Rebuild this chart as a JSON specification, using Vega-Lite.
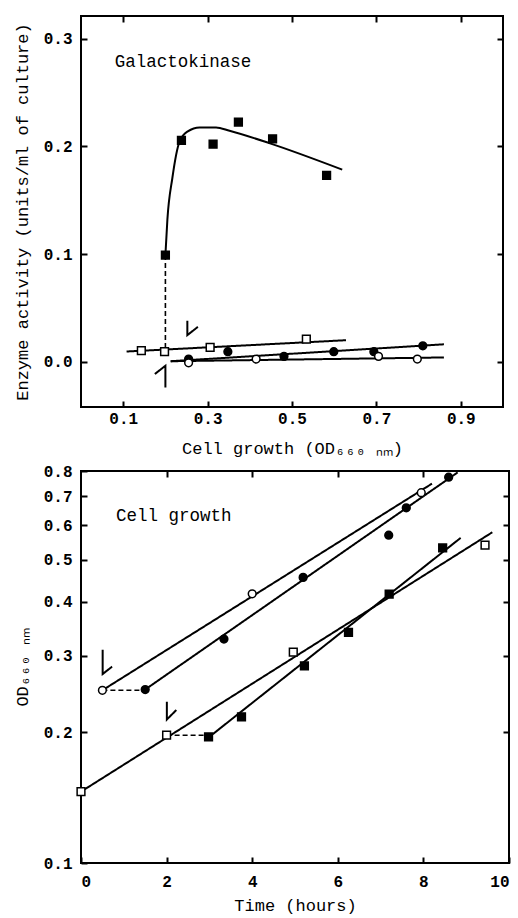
{
  "$schema": "https://vega.github.io/schema/vega-lite/v6.json",
  "padding": {"top": 14, "left": 12, "right": 0, "bottom": 0},
  "background": "white",
  "bounds": "flush",
  "spacing": 64,
  "config": {
    "view": {"stroke": "black", "strokeWidth": 2},
    "font": "Liberation Mono",
    "axis": {
      "grid": false, "domain": false, "tickSize": -6, "tickWidth": 2, "tickColor": "black",
      "labelFont": "Liberation Mono", "labelFontWeight": "bold", "labelFontSize": 16, "labelColor": "black",
      "titleFont": "Liberation Mono", "titleFontWeight": "normal", "titleFontSize": 17, "titleColor": "black"
    }
  },
  "datasets": {
    "gk_points": [
      {"s": "■", "x": 0.200, "y": 0.099}, {"s": "■", "x": 0.238, "y": 0.2056}, {"s": "■", "x": 0.313, "y": 0.202},
      {"s": "■", "x": 0.373, "y": 0.2225}, {"s": "■", "x": 0.454, "y": 0.207}, {"s": "■", "x": 0.582, "y": 0.173},
      {"s": "□", "x": 0.143, "y": 0.0104}, {"s": "□", "x": 0.198, "y": 0.0093}, {"s": "□", "x": 0.306, "y": 0.0133}, {"s": "□", "x": 0.534, "y": 0.021},
      {"s": "●", "x": 0.255, "y": 0.0025}, {"s": "●", "x": 0.348, "y": 0.0093}, {"s": "●", "x": 0.481, "y": 0.005},
      {"s": "●", "x": 0.599, "y": 0.0093}, {"s": "●", "x": 0.694, "y": 0.0093}, {"s": "●", "x": 0.81, "y": 0.0148},
      {"s": "○", "x": 0.255, "y": -0.001}, {"s": "○", "x": 0.415, "y": 0.0025}, {"s": "○", "x": 0.705, "y": 0.005}, {"s": "○", "x": 0.797, "y": 0.0025}
    ],
    "gk_lines": [
      {"seg": "□fit", "i": 0, "x": 0.108, "y": 0.0095, "style": "solid"}, {"seg": "□fit", "i": 1, "x": 0.628, "y": 0.020, "style": "solid"},
      {"seg": "●fit", "i": 0, "x": 0.2125, "y": 0.0005, "style": "solid"}, {"seg": "●fit", "i": 1, "x": 0.86, "y": 0.0162, "style": "solid"},
      {"seg": "○fit", "i": 0, "x": 0.2125, "y": 0.0005, "style": "solid"}, {"seg": "○fit", "i": 1, "x": 0.86, "y": 0.004, "style": "solid"},
      {"seg": "drop", "i": 0, "x": 0.2, "y": 0.099, "style": "dashed"}, {"seg": "drop", "i": 1, "x": 0.2, "y": 0.0093, "style": "dashed"},
      {"seg": "arrow1", "i": 0, "x": 0.252, "y": 0.038, "style": "solid"}, {"seg": "arrow1", "i": 1, "x": 0.252, "y": 0.0247, "style": "solid"}, {"seg": "arrow1", "i": 2, "x": 0.277, "y": 0.0324, "style": "solid"},
      {"seg": "arrow2", "i": 0, "x": 0.2, "y": -0.0238, "style": "solid"}, {"seg": "arrow2", "i": 1, "x": 0.2, "y": -0.0037, "style": "solid"}, {"seg": "arrow2", "i": 2, "x": 0.175, "y": -0.0114, "style": "solid"}
    ],
    "gk_curve": [
      {"x": 0.2, "y": 0.099}, {"x": 0.2047, "y": 0.132}, {"x": 0.2165, "y": 0.1706}, {"x": 0.2337, "y": 0.2046},
      {"x": 0.253, "y": 0.2139}, {"x": 0.281, "y": 0.2176}, {"x": 0.320, "y": 0.2176}, {"x": 0.352, "y": 0.2145},
      {"x": 0.446, "y": 0.203}, {"x": 0.619, "y": 0.1784}
    ],
    "cg_points": [
      {"s": "○", "x": 0.5, "y": 0.25}, {"s": "○", "x": 4.0, "y": 0.417}, {"s": "○", "x": 7.95, "y": 0.713},
      {"s": "●", "x": 1.5, "y": 0.251}, {"s": "●", "x": 3.34, "y": 0.328}, {"s": "●", "x": 5.19, "y": 0.455},
      {"s": "●", "x": 7.19, "y": 0.569}, {"s": "●", "x": 7.6, "y": 0.658}, {"s": "●", "x": 8.59, "y": 0.774},
      {"s": "□", "x": 0.0, "y": 0.146}, {"s": "□", "x": 2.0, "y": 0.197}, {"s": "□", "x": 4.96, "y": 0.306}, {"s": "□", "x": 9.44, "y": 0.540},
      {"s": "■", "x": 2.98, "y": 0.1953}, {"s": "■", "x": 3.75, "y": 0.2172}, {"s": "■", "x": 5.22, "y": 0.2845},
      {"s": "■", "x": 6.25, "y": 0.340}, {"s": "■", "x": 7.2, "y": 0.4165}, {"s": "■", "x": 8.45, "y": 0.532}
    ],
    "cg_lines": [
      {"seg": "○fit", "i": 0, "x": 0.5, "y": 0.25, "style": "solid"}, {"seg": "○fit", "i": 1, "x": 8.2, "y": 0.748, "style": "solid"},
      {"seg": "●fit", "i": 0, "x": 1.5, "y": 0.251, "style": "solid"}, {"seg": "●fit", "i": 1, "x": 8.8, "y": 0.794, "style": "solid"},
      {"seg": "□fit", "i": 0, "x": 0.0, "y": 0.146, "style": "solid"}, {"seg": "□fit", "i": 1, "x": 9.61, "y": 0.578, "style": "solid"},
      {"seg": "■fit", "i": 0, "x": 3.0, "y": 0.1953, "style": "solid"}, {"seg": "■fit", "i": 1, "x": 8.87, "y": 0.561, "style": "solid"},
      {"seg": "○shift", "i": 0, "x": 0.5, "y": 0.25, "style": "dashed"}, {"seg": "○shift", "i": 1, "x": 1.5, "y": 0.25, "style": "dashed"},
      {"seg": "□shift", "i": 0, "x": 2.0, "y": 0.197, "style": "dashed"}, {"seg": "□shift", "i": 1, "x": 3.0, "y": 0.197, "style": "dashed"},
      {"seg": "arrow1", "i": 0, "x": 0.506, "y": 0.310, "style": "solid"}, {"seg": "arrow1", "i": 1, "x": 0.506, "y": 0.2725, "style": "solid"}, {"seg": "arrow1", "i": 2, "x": 0.727, "y": 0.2834, "style": "solid"},
      {"seg": "arrow2", "i": 0, "x": 2.006, "y": 0.2352, "style": "solid"}, {"seg": "arrow2", "i": 1, "x": 2.006, "y": 0.2141, "style": "solid"}, {"seg": "arrow2", "i": 2, "x": 2.227, "y": 0.2251, "style": "solid"}
    ],
    "gk_label": [{"label": "Galactokinase", "x": 0.08, "y": 0.2787}],
    "cg_label": [{"label": "Cell growth", "x": 0.82, "y": 0.63}]
  },
  "vconcat": [
    {
      "width": 422,
      "height": 391,
      "layer": [
        {
          "encoding": {
            "x": {"field": "x", "type": "quantitative",
                  "scale": {"domain": [0, 1.0], "nice": false, "zero": false},
                  "axis": {"values": [0.1, 0.3, 0.5, 0.7, 0.9], "format": ".1f", "labelPadding": 9, "titlePadding": 14,
                           "title": "Cell growth (OD₆₆₀ ₙₘ)"}},
            "y": {"field": "y", "type": "quantitative",
                  "scale": {"domain": [-0.042, 0.321], "nice": false, "zero": false},
                  "axis": {"values": [0, 0.1, 0.2, 0.3], "format": ".1f", "labelPadding": 15, "titlePadding": 12,
                           "title": "Enzyme activity (units/ml of culture)"}}
          },
          "layer": [
            {
              "data": {"name": "gk_lines"},
              "mark": {"type": "line", "color": "black"},
              "encoding": {
                "detail": {"field": "seg"},
                "order": {"field": "i", "type": "quantitative"},
                "strokeDash": {"field": "style", "type": "nominal", "scale": {"domain": ["solid", "dashed"], "range": [[1, 0], [5, 3]]}, "legend": null},
                "strokeWidth": {"field": "style", "type": "nominal", "scale": {"domain": ["solid", "dashed"], "range": [2, 1.6]}, "legend": null}
              }
            },
            {
              "data": {"name": "gk_curve"},
              "mark": {"type": "line", "color": "black", "strokeWidth": 2, "interpolate": "monotone"},
              "encoding": {}
            },
            {
              "data": {"name": "gk_points"},
              "mark": {"type": "point", "filled": false, "stroke": "black", "strokeWidth": 1.5, "size": 60, "opacity": 1},
              "encoding": {
                "shape": {"field": "s", "type": "nominal", "scale": {"domain": ["■", "□", "●", "○"], "range": ["square", "square", "circle", "circle"]}, "legend": null},
                "fill": {"field": "s", "type": "nominal", "scale": {"domain": ["■", "□", "●", "○"], "range": ["black", "white", "black", "white"]}, "legend": null}
              }
            },
            {
              "data": {"name": "gk_label"},
              "mark": {"type": "text", "align": "left", "baseline": "middle", "font": "Liberation Mono", "fontSize": 17.5, "color": "black"},
              "encoding": {"text": {"field": "label"}}
            }
          ]
        },
        {
          "data": {"name": "gk_points"},
          "mark": {"type": "point", "opacity": 0},
          "encoding": {
            "x": {"field": "x", "type": "quantitative", "scale": {"domain": [0, 1.0], "nice": false, "zero": false},
                  "axis": {"orient": "top", "values": [0.1, 0.3, 0.5, 0.7, 0.9], "labels": false, "title": null}},
            "y": {"field": "y", "type": "quantitative", "scale": {"domain": [-0.042, 0.321], "nice": false, "zero": false},
                  "axis": {"orient": "right", "values": [0, 0.1, 0.2, 0.3], "labels": false, "title": null}}
          }
        }
      ],
      "resolve": {"axis": {"x": "independent", "y": "independent"}}
    },
    {
      "width": 428,
      "height": 392,
      "layer": [
        {
          "encoding": {
            "x": {"field": "x", "type": "quantitative",
                  "scale": {"domain": [0, 10], "nice": false, "zero": false},
                  "axis": {"values": [0, 2, 4, 6, 8, 10], "format": "d", "labelPadding": 16, "titlePadding": 8,
                           "title": "Time (hours)"}},
            "y": {"field": "y", "type": "quantitative",
                  "scale": {"type": "log", "domain": [0.1, 0.8], "nice": false, "zero": false},
                  "axis": {"values": [0.1, 0.2, 0.3, 0.4, 0.5, 0.6, 0.7, 0.8], "format": ".1f", "labelPadding": 15, "titlePadding": 12,
                           "title": "OD₆₆₀ ₙₘ"}}
          },
          "layer": [
            {
              "data": {"name": "cg_lines"},
              "mark": {"type": "line", "color": "black"},
              "encoding": {
                "detail": {"field": "seg"},
                "order": {"field": "i", "type": "quantitative"},
                "strokeDash": {"field": "style", "type": "nominal", "scale": {"domain": ["solid", "dashed"], "range": [[1, 0], [5, 3]]}, "legend": null},
                "strokeWidth": {"field": "style", "type": "nominal", "scale": {"domain": ["solid", "dashed"], "range": [2, 1.6]}, "legend": null}
              }
            },
            {
              "data": {"name": "cg_points"},
              "mark": {"type": "point", "filled": false, "stroke": "black", "strokeWidth": 1.5, "size": 60, "opacity": 1},
              "encoding": {
                "shape": {"field": "s", "type": "nominal", "scale": {"domain": ["■", "□", "●", "○"], "range": ["square", "square", "circle", "circle"]}, "legend": null},
                "fill": {"field": "s", "type": "nominal", "scale": {"domain": ["■", "□", "●", "○"], "range": ["black", "white", "black", "white"]}, "legend": null}
              }
            },
            {
              "data": {"name": "cg_label"},
              "mark": {"type": "text", "align": "left", "baseline": "middle", "font": "Liberation Mono", "fontSize": 17.5, "color": "black"},
              "encoding": {"text": {"field": "label"}}
            }
          ]
        },
        {
          "data": {"name": "cg_points"},
          "mark": {"type": "point", "opacity": 0},
          "encoding": {
            "x": {"field": "x", "type": "quantitative", "scale": {"domain": [0, 10], "nice": false, "zero": false},
                  "axis": {"orient": "top", "values": [2, 4, 6, 8], "labels": false, "title": null}},
            "y": {"field": "y", "type": "quantitative", "scale": {"type": "log", "domain": [0.1, 0.8], "nice": false, "zero": false},
                  "axis": {"orient": "right", "values": [0.2, 0.3, 0.4, 0.5, 0.6, 0.7], "labels": false, "title": null}}
          }
        }
      ],
      "resolve": {"axis": {"x": "independent", "y": "independent"}}
    }
  ]
}
